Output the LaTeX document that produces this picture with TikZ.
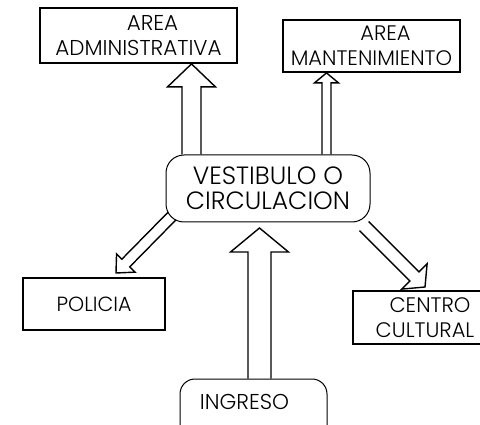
\documentclass[tikz,border=0pt]{standalone}
\usepackage{fontspec}
\setmainfont{Poppins Light}
\usetikzlibrary{calc}
\pgfdeclarelayer{background}
\pgfsetlayers{background,main}
\tikzset{
  sqbox/.style={draw=black, line width=1.8pt, fill=white, inner sep=0pt, align=center},
  rbox/.style={draw=black, line width=1pt, fill=white, rounded corners=18pt, inner sep=0pt, align=center},
  barrowline/.style={draw=black, line width=1.4pt, fill=white, line join=miter}
}
% #1 tail, #2 tip, #3 half shaft width, #4 half head width, #5 head length
\newcommand\blockarr[5]{%
  \coordinate (hd) at ($(#2)!#5!(#1)$);
  \draw[barrowline] ($(#1)!#3!90:(#2)$) -- ($(hd)!#3!90:(#2)$) -- ($(hd)!#4!90:(#2)$) -- (#2)
     -- ($(hd)!#4!-90:(#2)$) -- ($(hd)!#3!-90:(#2)$) -- ($(#1)!#3!-90:(#2)$);
}
\begin{document}
\begin{tikzpicture}[x=1pt, y=-1pt]
\useasboundingbox (0,0) rectangle (480,425);
\clip (0,0) rectangle (480,425);
% nodes
\node[sqbox, minimum width=197pt, minimum height=55pt, font=\fontsize{21.5}{25}\selectfont] (admin) at (138.5,35.5) {\hspace*{28pt}AREA\\ADMINISTRATIVA};
\node[sqbox, minimum width=177pt, minimum height=52pt, font=\fontsize{21}{25}\selectfont] (mant) at (371.5,46) {\hspace*{28pt}AREA\\MANTENIMIENTO};
\node[rbox, minimum width=204pt, minimum height=67pt, font=\fontsize{25}{25}\selectfont] (vest) at (268,188.5) {VESTIBULO O\\CIRCULACION};
\node[sqbox, minimum width=142pt, minimum height=52pt, font=\fontsize{20.5}{24}\selectfont] (pol) at (94,304) {POLICIA};
\node[sqbox, minimum width=144pt, minimum height=53pt, font=\fontsize{21}{25}\selectfont] (centro) at (425,317.5) {\hspace*{10pt}CENTRO\\CULTURAL};
\node[rbox, rounded corners=15pt, minimum width=147pt, minimum height=62pt] (ingreso) at (253.5,410) {};
\node[font=\fontsize{21.5}{25}\selectfont, inner sep=0pt] (ingtxt) at (244.5,402) {INGRESO};
% arrows
\begin{pgfonlayer}{background}
\fill[white] (0,0) rectangle (480,425);
\coordinate (a1t) at (vest.north -| 191.5,0);
\coordinate (a1h) at (admin.south -| 191.5,0);
\blockarr{a1t}{a1h}{9.5pt}{24pt}{23pt}
\coordinate (a2t) at (vest.north -| 326.5,0);
\coordinate (a2h) at (mant.south -| 326.5,0);
\blockarr{a2t}{a2h}{4.5pt}{12pt}{10pt}
\coordinate (a3t) at (ingreso.north -| 259.5,0);
\coordinate (a3h) at (259.5,228);
\blockarr{a3t}{a3h}{11.5pt}{29pt}{24pt}
\coordinate (a4t) at (174,214);
\coordinate (a4h) at (116,273);
\blockarr{a4t}{a4h}{5.5pt}{13pt}{14pt}
\coordinate (a5t) at (364,226);
\coordinate (a5h) at (425,287);
\blockarr{a5t}{a5h}{6.5pt}{18pt}{15pt}
\end{pgfonlayer}
\end{tikzpicture}
\end{document}
